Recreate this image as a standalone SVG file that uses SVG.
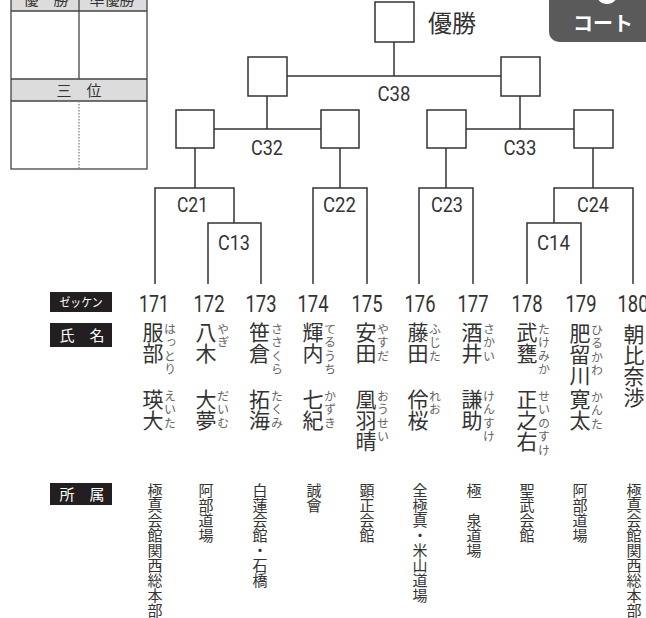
<svg xmlns="http://www.w3.org/2000/svg" width="646" height="618" viewBox="0 0 646 618">
<style>
.ln{fill:none;stroke:#333;stroke-width:1.5}
.box{fill:#fff;stroke:#333;stroke-width:1.5}
.jp{font-family:"Noto Sans CJK JP","Noto Sans",sans-serif}
.cl{font-family:Roboto,"Liberation Sans",sans-serif;font-size:21px;fill:#333;text-anchor:middle}
.num{font-family:Roboto,"Liberation Sans",sans-serif;font-size:23px;fill:#333;text-anchor:middle}
.v{writing-mode:vertical-rl;font-family:"Noto Sans CJK JP",sans-serif}
.kj{font-size:21px;fill:#333}
.fg{font-size:12px;fill:#666;letter-spacing:1.5px}
.af{font-size:15px;fill:#333}
.tag{fill:#231f20}
.tagt{font-family:"Noto Sans CJK JP",sans-serif;fill:#fff}
</style>
<rect width="646" height="618" fill="#fff"/>
<g id="result-table">
<rect x="11" y="-20" width="136" height="31" fill="#dcdcdc"/>
<rect x="11" y="79" width="136" height="22" fill="#dcdcdc"/>
<rect x="11" y="-20" width="136" height="189" fill="none" stroke="#444" stroke-width="1.3"/>
<line x1="11" y1="11" x2="147" y2="11" stroke="#444" stroke-width="1.3"/>
<line x1="11" y1="79" x2="147" y2="79" stroke="#444" stroke-width="1.3"/>
<line x1="11" y1="101" x2="147" y2="101" stroke="#444" stroke-width="1.3"/>
<line x1="79" y1="-20" x2="79" y2="79" stroke="#444" stroke-width="1.3"/>
<line x1="79" y1="101" x2="79" y2="169" stroke="#777" stroke-width="1.2" stroke-dasharray="1.5,1.5"/>
<text class="jp" x="46" y="5" font-size="15" fill="#333" text-anchor="middle">優　勝</text>
<text class="jp" x="112" y="5" font-size="15" fill="#333" text-anchor="middle">準優勝</text>
<text class="jp" x="79" y="96" font-size="15" fill="#333" text-anchor="middle">三　位</text>
</g>
<g id="court-badge">
<rect x="549" y="-20" width="120" height="62" rx="10" fill="#5a5a5a"/>
<circle cx="607" cy="-7" r="11" fill="#fff"/>
<text class="jp" x="603" y="31" font-size="20" font-weight="bold" fill="#fff" text-anchor="middle">コート</text>
</g>
<g id="connectors">
<path class="ln" d="M394 42V76M287 76H501"/>
<path class="ln" d="M267 96V129M214 129H321M520 96V129M466 129H574"/>
<path class="ln" d="M195 148V188M340 148V188M446 148V188M593 148V188"/>
<path class="ln" d="M155 284V188H234V223"/>
<path class="ln" d="M208 284V223H261V284"/>
<path class="ln" d="M313 284V188H367V284"/>
<path class="ln" d="M419 284V188H473V284"/>
<path class="ln" d="M554 223V188H633V284"/>
<path class="ln" d="M527 284V223H581V284"/>
</g>
<g id="final"><rect class="box" x="375" y="2" width="39" height="40"/><text class="jp" x="428" y="32" font-size="24" fill="#333">優勝</text></g>
<g id="sf-left"><rect class="box" x="248" y="57" width="39" height="39"/></g>
<g id="sf-right"><rect class="box" x="501" y="57" width="39" height="39"/></g>
<g id="c38"><text class="cl" x="394" y="101" textLength="33" lengthAdjust="spacingAndGlyphs">C38</text></g>
<g id="qf1"><rect class="box" x="176" y="110" width="38" height="38"/></g>
<g id="qf2"><rect class="box" x="321" y="110" width="38" height="38"/></g>
<g id="qf3"><rect class="box" x="427" y="110" width="39" height="38"/></g>
<g id="qf4"><rect class="box" x="574" y="110" width="39" height="38"/></g>
<g id="c32"><text class="cl" x="267" y="155" textLength="32" lengthAdjust="spacingAndGlyphs">C32</text></g>
<g id="c33"><text class="cl" x="520" y="155" textLength="33" lengthAdjust="spacingAndGlyphs">C33</text></g>
<g id="c21"><text class="cl" x="192.5" y="212" textLength="31" lengthAdjust="spacingAndGlyphs">C21</text></g>
<g id="c22"><text class="cl" x="339.5" y="212" textLength="33" lengthAdjust="spacingAndGlyphs">C22</text></g>
<g id="c23"><text class="cl" x="447" y="212" textLength="32" lengthAdjust="spacingAndGlyphs">C23</text></g>
<g id="c24"><text class="cl" x="593" y="212" textLength="32" lengthAdjust="spacingAndGlyphs">C24</text></g>
<g id="c13"><text class="cl" x="234" y="250" textLength="32" lengthAdjust="spacingAndGlyphs">C13</text></g>
<g id="c14"><text class="cl" x="553.5" y="250" textLength="33" lengthAdjust="spacingAndGlyphs">C14</text></g>
<g id="labels">
<rect class="tag" x="50" y="292" width="62" height="20"/>
<text class="tagt" x="81" y="306.5" font-size="12" text-anchor="middle" textLength="43" lengthAdjust="spacingAndGlyphs">ゼッケン</text>
<rect class="tag" x="50" y="323" width="62" height="24"/>
<text class="tagt" x="82" y="340.5" font-size="15" text-anchor="middle">氏　名</text>
<rect class="tag" x="50" y="483" width="62" height="22"/>
<text class="tagt" x="82" y="499.5" font-size="15" text-anchor="middle">所　属</text>
</g>
<g id="p171"><text class="num" x="154" y="312" textLength="30" lengthAdjust="spacingAndGlyphs">171</text><text class="v kj" x="153" y="322">服部</text><text class="v fg" x="170" y="323">はっとり</text><text class="v kj" x="153" y="389">瑛大</text><text class="v fg" x="170" y="390">えいた</text><text class="v af" x="155" y="483">極真会館関西総本部</text></g>
<g id="p172"><text class="num" x="209" y="312" textLength="31" lengthAdjust="spacingAndGlyphs">172</text><text class="v kj" x="206" y="322">八木</text><text class="v fg" x="223" y="323">やぎ</text><text class="v kj" x="206" y="389">大夢</text><text class="v fg" x="223" y="390">だいむ</text><text class="v af" x="206" y="483">阿部道場</text></g>
<g id="p173"><text class="num" x="261" y="312" textLength="31" lengthAdjust="spacingAndGlyphs">173</text><text class="v kj" x="259.5" y="322">笹倉</text><text class="v fg" x="277" y="323">ささくら</text><text class="v kj" x="259.5" y="389">拓海</text><text class="v fg" x="277" y="390">たくみ</text><text class="v af" x="260" y="483">白蓮会館・石橋</text></g>
<g id="p174"><text class="num" x="313" y="312" textLength="31" lengthAdjust="spacingAndGlyphs">174</text><text class="v kj" x="313" y="322">輝内</text><text class="v fg" x="330" y="323">てるうち</text><text class="v kj" x="313" y="389">七紀</text><text class="v fg" x="330" y="390">かずき</text><text class="v af" x="314" y="483">誠會</text></g>
<g id="p175"><text class="num" x="367" y="312" textLength="31" lengthAdjust="spacingAndGlyphs">175</text><text class="v kj" x="366" y="322">安田</text><text class="v fg" x="383" y="323">やすだ</text><text class="v kj" x="366" y="389">凰羽晴</text><text class="v fg" x="383" y="390">おうせい</text><text class="v af" x="367" y="483">顕正会館</text></g>
<g id="p176"><text class="num" x="420" y="312" textLength="31" lengthAdjust="spacingAndGlyphs">176</text><text class="v kj" x="418" y="322">藤田</text><text class="v fg" x="435" y="323">ふじた</text><text class="v kj" x="418" y="389">伶桜</text><text class="v fg" x="435" y="390">れお</text><text class="v af" x="420" y="483">全極真・米山道場</text></g>
<g id="p177"><text class="num" x="473" y="312" textLength="31" lengthAdjust="spacingAndGlyphs">177</text><text class="v kj" x="472" y="322">酒井</text><text class="v fg" x="489" y="323">さかい</text><text class="v kj" x="472" y="389">謙助</text><text class="v fg" x="489" y="390">けんすけ</text><text class="v af" x="474" y="483">極　泉道場</text></g>
<g id="p178"><text class="num" x="527" y="312" textLength="31" lengthAdjust="spacingAndGlyphs">178</text><text class="v kj" x="527" y="322">武甕</text><text class="v fg" x="544" y="323">たけみか</text><text class="v kj" x="527" y="389">正之右</text><text class="v fg" x="544" y="390">せいのすけ</text><text class="v af" x="527" y="483">聖武会館</text></g>
<g id="p179"><text class="num" x="581" y="312" textLength="31" lengthAdjust="spacingAndGlyphs">179</text><text class="v kj" x="580" y="323">肥留川</text><text class="v fg" x="597" y="324">ひるかわ</text><text class="v kj" x="580" y="389">寛太</text><text class="v fg" x="597" y="391">かんた</text><text class="v af" x="580" y="483">阿部道場</text></g>
<g id="p180"><text class="num" x="633" y="312" textLength="31" lengthAdjust="spacingAndGlyphs">180</text><text class="v kj" x="634" y="324">朝比奈渉</text><text class="v af" x="634" y="483">極真会館関西総本部</text></g>
</svg>
